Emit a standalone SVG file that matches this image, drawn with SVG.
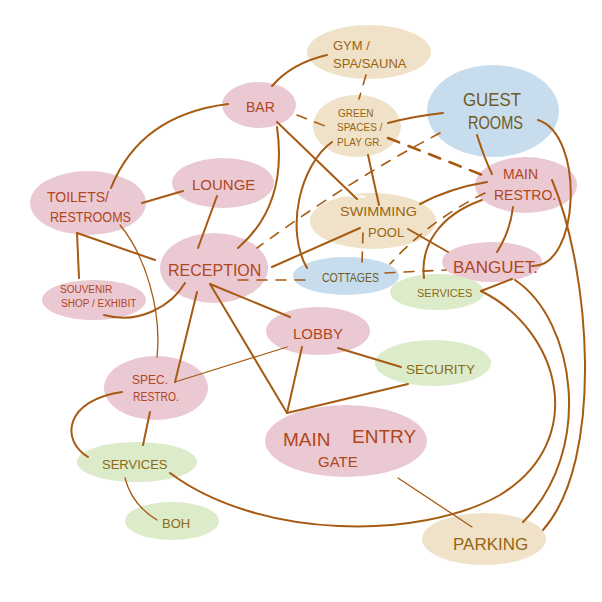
<svg xmlns="http://www.w3.org/2000/svg" width="602" height="602" viewBox="0 0 602 602">
<style>
.pink{fill:#ebc9d3}
.beige{fill:#efe2c9}
.blue{fill:#c7ddee}
.green{fill:#dcebc9}
text{font-family:"Liberation Sans",Arial,sans-serif;}
.tp{fill:#b0461c}
.tb{fill:#9a6410}
.tg{fill:#8c6a14}
.tl{fill:#6f5a24}
.c path{fill:none;stroke:#a65a12;stroke-width:2;stroke-linecap:round}
.c .thin{stroke-width:1.3}
.c .d{stroke-dasharray:10 9;stroke-width:1.6}
.c .dt{stroke-dasharray:12 10;stroke-width:2.6}
</style>
<rect width="602" height="602" fill="#ffffff"/>
<g id="nodes">
<g id="gym"><ellipse class="beige" cx="369" cy="52" rx="62" ry="27"/><text class="tb" font-size="13"><tspan x="333" y="50">GYM /</tspan><tspan x="333" y="68">SPA/SAUNA</tspan></text></g>
<g id="bar"><ellipse class="pink" cx="259" cy="105" rx="37" ry="23"/><text class="tp" font-size="14" x="246" y="112">BAR</text></g>
<g id="green"><ellipse class="beige" cx="357" cy="126" rx="44" ry="31"/><text class="tb" font-size="10"><tspan x="338" y="117">GREEN</tspan><tspan x="337" y="131">SPACES /</tspan><tspan x="337" y="146">PLAY GR.</tspan></text></g>
<g id="guest"><ellipse class="blue" cx="493" cy="111" rx="66" ry="46"/><text class="tl" font-size="19" x="463" y="106" textLength="58" lengthAdjust="spacingAndGlyphs">GUEST</text><text class="tl" font-size="19" x="468" y="129" textLength="55" lengthAdjust="spacingAndGlyphs">ROOMS</text></g>
<g id="mainrestro"><ellipse class="pink" cx="526" cy="185" rx="51" ry="28"/><text class="tp" font-size="14"><tspan x="503" y="179">MAIN</tspan><tspan x="494" y="200">RESTRO.</tspan></text></g>
<g id="toilets"><ellipse class="pink" cx="88" cy="203" rx="58" ry="32"/><text class="tp" font-size="14" x="47" y="202">TOILETS/</text><text class="tp" font-size="14" x="50" y="222" textLength="81" lengthAdjust="spacingAndGlyphs">RESTROOMS</text></g>
<g id="lounge"><ellipse class="pink" cx="223" cy="183" rx="51" ry="25"/><text class="tp" font-size="15" x="192" y="190">LOUNGE</text></g>
<g id="swimming"><ellipse class="beige" cx="373" cy="221" rx="63" ry="28"/><path d="M322,240 A58,23 0 0 1 365,197" fill="none" stroke="#ffffff" stroke-width="2"/><text class="tb" font-size="13" x="340" y="216" textLength="77" lengthAdjust="spacingAndGlyphs">SWIMMING</text><text class="tb" font-size="13" x="368" y="237">POOL</text></g>
<g id="reception"><ellipse class="pink" cx="214" cy="268" rx="54" ry="35"/><text class="tp" font-size="16" x="168" y="276">RECEPTION</text></g>
<g id="cottages"><ellipse class="blue" cx="346" cy="276" rx="53" ry="19"/><text class="tl" font-size="12" x="322" y="282" textLength="57" lengthAdjust="spacingAndGlyphs">COTTAGES</text></g>
<g id="banquet"><ellipse class="pink" cx="492" cy="262" rx="50" ry="20"/><text class="tp" font-size="17" x="453" y="273">BANGUET.</text></g>
<g id="services1"><ellipse class="green" cx="437" cy="292" rx="47" ry="18"/><text class="tg" font-size="11" x="417" y="297">SERVICES</text></g>
<g id="souvenir"><ellipse class="pink" cx="94" cy="300" rx="52" ry="20"/><text class="tp" font-size="10"><tspan x="60" y="293">SOUVENIR</tspan><tspan x="61" y="307">SHOP / EXHIBIT</tspan></text></g>
<g id="lobby"><ellipse class="pink" cx="318" cy="331" rx="52" ry="24"/><text class="tp" font-size="15" x="293" y="339">LOBBY</text></g>
<g id="security"><ellipse class="green" cx="433" cy="363" rx="58" ry="23"/><text class="tg" font-size="13" x="406" y="374" textLength="69" lengthAdjust="spacingAndGlyphs">SECURITY</text></g>
<g id="specrestro"><ellipse class="pink" cx="156" cy="388" rx="52" ry="32"/><text class="tp" font-size="12" x="132" y="384">SPEC.</text><text class="tp" font-size="12" x="133" y="401" textLength="46" lengthAdjust="spacingAndGlyphs">RESTRO.</text></g>
<g id="mainentry"><ellipse class="pink" cx="346" cy="441" rx="81" ry="36"/><text class="tp" font-size="19"><tspan x="283" y="446">MAIN</tspan><tspan x="352" y="443">ENTRY</tspan></text><text class="tp" font-size="15" x="318" y="467">GATE</text></g>
<g id="services2"><ellipse class="green" cx="137" cy="462" rx="60" ry="20"/><text class="tg" font-size="13" x="102" y="469">SERVICES</text></g>
<g id="boh"><ellipse class="green" cx="172" cy="521" rx="47" ry="19"/><text class="tg" font-size="13" x="162" y="528">BOH</text></g>
<g id="parking"><ellipse class="beige" cx="484" cy="539" rx="62" ry="26"/><text class="tb" font-size="17" x="453" y="550">PARKING</text></g>
</g>
<g id="connectors" class="c">
<path d="M272,86 Q292,63 327,55"/>
<path d="M228,104 Q140,115 111,188"/>
<path d="M277,127 Q288,205 238,248"/>
<path d="M277,122 L357,199"/>
<path class="d" d="M297,115 L330,128"/>
<path class="d" d="M366,75 L359,99"/>
<path d="M388,123 Q415,116 443,113"/>
<path class="dt" d="M388,138 L485,176"/>
<path d="M368,155 L379,205"/>
<path d="M332,142 C300,165 285,230 307,268"/>
<path d="M477,135 Q485,160 492,174"/>
<path d="M538,120 C585,135 580,268 532,266"/>
<path d="M552,180 C590,270 605,460 543,530"/>
<path d="M487,182 Q450,188 420,204"/>
<path d="M513,207 Q510,232 497,252"/>
<path d="M482,200 C440,215 420,245 424,278"/>
<path class="d" d="M440,133 Q350,180 257,248"/>
<path class="d" d="M485,193 Q430,220 390,264"/>
<path class="d" d="M238,280 L305,280"/>
<path class="d" d="M385,273 L446,270"/>
<path class="d" d="M363,233 L362,263"/>
<path d="M360,228 L272,267"/>
<path d="M408,229 L448,252"/>
<path d="M217,196 L198,248"/>
<path d="M183,191 L142,203"/>
<path d="M77,233 L155,260"/>
<path d="M77,233 L79,278"/>
<path class="thin" d="M120,225 C145,255 162,310 157,357"/>
<path d="M104,315 C140,325 172,305 185,283"/>
<path d="M197,292 L175,382"/>
<path class="thin" d="M287,347 L175,382"/>
<path d="M210,284 L290,317"/>
<path d="M210,284 L287,413"/>
<path d="M302,347 L287,413"/>
<path d="M287,413 L408,384"/>
<path d="M338,348 L401,367"/>
<path class="thin" d="M398,478 L472,527"/>
<path d="M150,412 L143,445"/>
<path d="M122,392 C65,400 60,440 88,457"/>
<path class="thin" d="M125,478 Q132,505 157,520"/>
<path d="M481,291 C560,330 590,440 500,495 C420,540 260,540 170,473" stroke-width="1.7"/>
<path d="M481,291 L512,279"/>
<path d="M515,280 C575,320 595,450 523,522"/>
</g>
</svg>
